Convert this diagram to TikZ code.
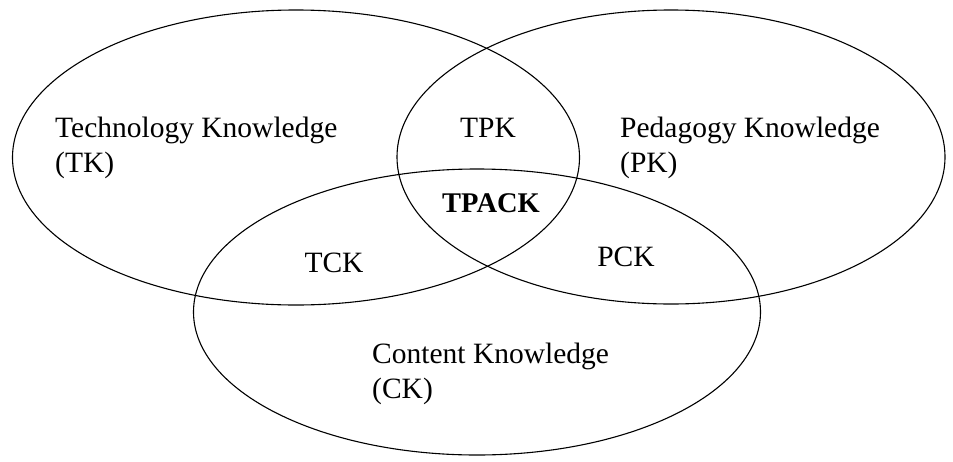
\documentclass[tikz,border=0pt]{standalone}
\usepackage{fontspec}
\setmainfont{Liberation Serif}
\usepackage{tikz}
\usetikzlibrary{shapes.geometric}

\begin{document}
\begin{tikzpicture}[x=1pt, y=-1pt,
    circ/.style={draw, ellipse, line width=1.1pt, inner sep=0pt},
    lbl/.style={font=\fontsize{29.5}{35}\selectfont, inner sep=0pt, anchor=base west, align=left},
    tag/.style={font=\fontsize{29.5}{35}\selectfont, inner sep=0pt, anchor=base}]
\useasboundingbox (0,0) rectangle (953,461);

\node[circ, minimum width=567pt, minimum height=295pt] (tk) at (296,157.5) {};
\node[circ, minimum width=548pt, minimum height=294pt] (pk) at (671,157) {};
\node[circ, minimum width=567pt, minimum height=286pt] (ck) at (477,312) {};

% base anchor of two-line nodes sits on the last line
\node[lbl] (tk_text) at (55,172) {Technology Knowledge\\(TK)};
\node[lbl] (pk_text) at (620,172) {Pedagogy Knowledge\\(PK)};
\node[lbl] (ck_text) at (372,398) {Content Knowledge\\(CK)};

\node[tag] (tpk) at (488,137) {TPK};
\node[tag] (tck) at (334,272) {TCK};
\node[tag] (pck) at (626,266) {PCK};
\node[tag, font=\fontsize{28.5}{35}\selectfont\bfseries] (tpack) at (491,212) {TPACK};

\end{tikzpicture}
\end{document}
